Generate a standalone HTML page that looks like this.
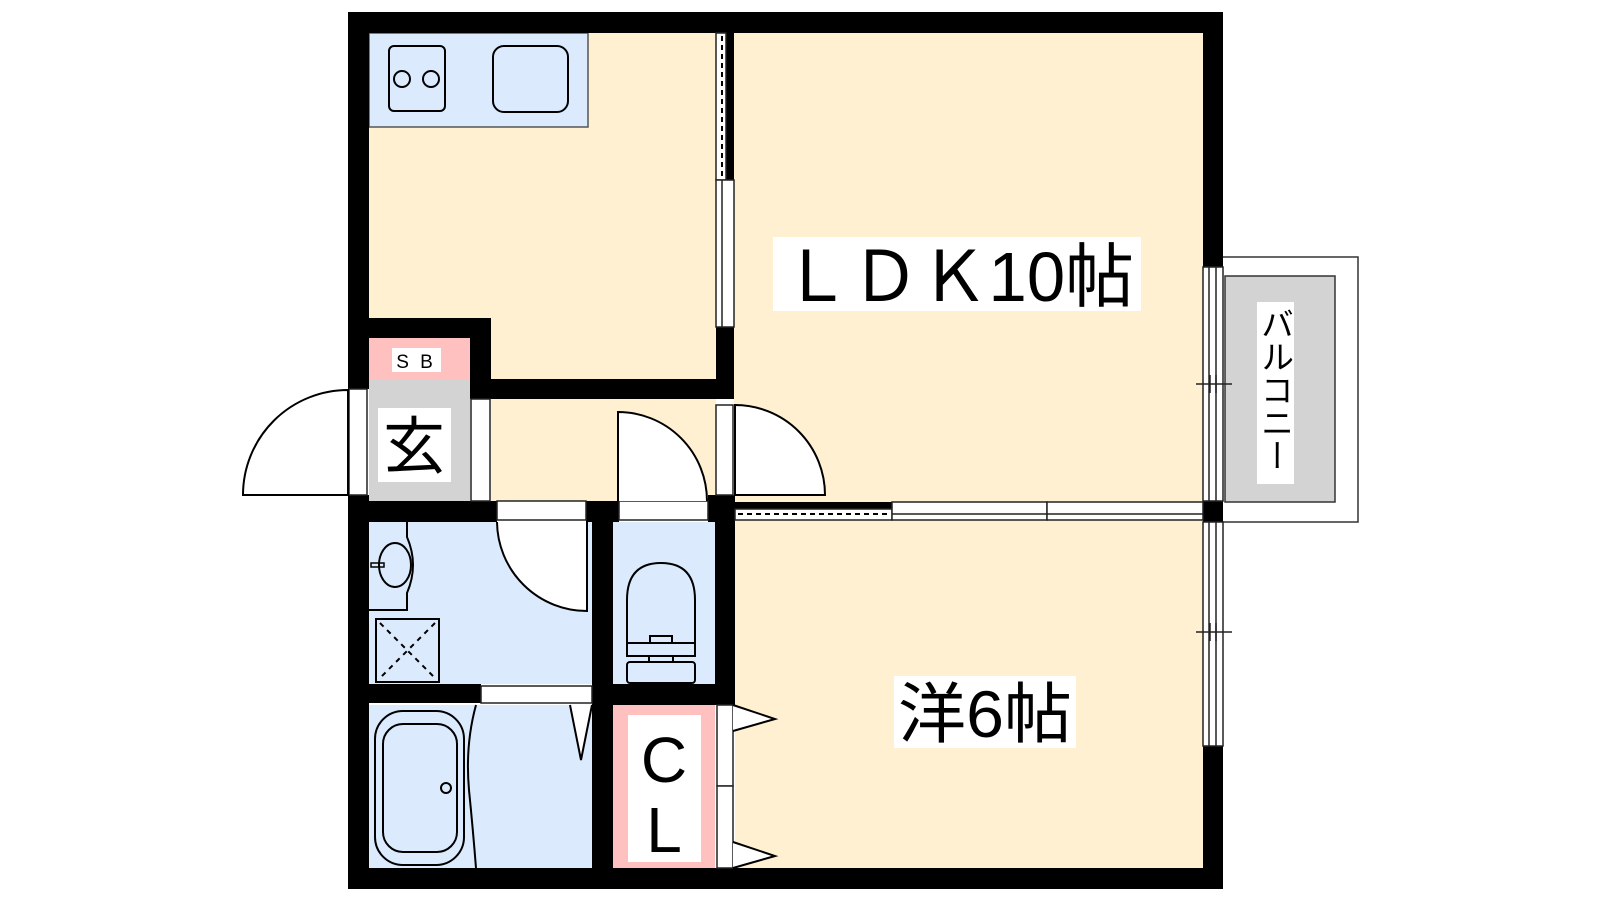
<!DOCTYPE html>
<html><head><meta charset="utf-8"><style>html,body{margin:0;padding:0;background:#fff}svg{display:block}</style></head>
<body>
<svg width="1600" height="900" viewBox="0 0 1600 900" xmlns="http://www.w3.org/2000/svg" font-family="Liberation Sans, Noto Sans CJK JP, sans-serif">
<!-- room fills -->
<rect x="369" y="33" width="347" height="346" fill="#FEF0D0"/>
<rect x="491" y="399" width="225" height="102" fill="#FEF0D0"/>
<rect x="734" y="33" width="469" height="469" fill="#FEF0D0"/>
<rect x="735" y="520" width="468" height="348" fill="#FEF0D0"/>
<rect x="369" y="33" width="219" height="94" fill="#DBEBFD" stroke="#555" stroke-width="1.5"/>
<rect x="369" y="338" width="101" height="41" fill="#FFC0C0"/>
<rect x="369" y="379" width="101" height="122" fill="#D3D3D3"/>
<rect x="369" y="522" width="223" height="162" fill="#DBEBFD"/>
<rect x="613" y="522" width="102" height="162" fill="#DBEBFD"/>
<rect x="369" y="705" width="223" height="163" fill="#DBEBFD"/>
<rect x="613" y="705" width="102" height="163" fill="#FFC0C0"/>

<!-- balcony -->
<path d="M1223 257 H1358 V522 H1223" fill="none" stroke="#333" stroke-width="1.5"/>
<rect x="1225" y="276" width="110" height="226" fill="#D3D3D3" stroke="#333" stroke-width="1.5"/>
<rect x="1257" y="302" width="37" height="182" fill="#fff"/>
<text x="1275" y="307" font-size="33" style="writing-mode:vertical-rl;text-orientation:upright" writing-mode="tb">バルコニー</text>

<g fill="#000">
<!-- outer walls -->
<rect x="348" y="12" width="875" height="21"/>
<rect x="348" y="868" width="875" height="21"/>
<rect x="348" y="12" width="21" height="377"/>
<rect x="348" y="495" width="21" height="394"/>
<rect x="1203" y="12" width="20" height="255"/>
<rect x="1203" y="746" width="20" height="143"/>
<rect x="1203" y="501" width="20" height="21"/>
<!-- interior -->
<rect x="369" y="318" width="122" height="20"/>
<rect x="470" y="318" width="21" height="81"/>
<rect x="470" y="379" width="247" height="20"/>
<rect x="716" y="327" width="18" height="72"/>
<rect x="726" y="33" width="8" height="147"/>
<rect x="348" y="501" width="149" height="21"/>
<rect x="586" y="501" width="33" height="21"/>
<rect x="592" y="501" width="21" height="367"/>
<rect x="708" y="495" width="27" height="27"/>
<rect x="715" y="495" width="20" height="210"/>
<rect x="592" y="684" width="143" height="21"/>
<rect x="348" y="684" width="133" height="19"/>
<rect x="735" y="502" width="157" height="7"/>
</g>

<g fill="#fff" stroke="#222" stroke-width="1.5">
<!-- frames -->
<rect x="349" y="389" width="18" height="106"/>
<rect x="471" y="399" width="19" height="102"/>
<rect x="497" y="501" width="89" height="19"/>
<rect x="619" y="501" width="89" height="19"/>
<rect x="481" y="686" width="111" height="17"/>
<rect x="716" y="33" width="10" height="147"/>
<rect x="716" y="180" width="18" height="147"/>
<rect x="716" y="405" width="17" height="90"/>
<rect x="735" y="509" width="157" height="11"/>
<rect x="892" y="502" width="155" height="18"/>
<rect x="1047" y="502" width="156" height="18"/>
<rect x="1203" y="267" width="20" height="234"/>
<rect x="1203" y="522" width="20" height="224"/>
<rect x="717" y="705" width="16" height="81"/>
<rect x="717" y="786" width="16" height="82"/>
</g>
<g stroke="#222" stroke-width="1.5" fill="none">
<line x1="722" y1="180" x2="722" y2="327"/>
<line x1="892" y1="514" x2="1203" y2="514"/>
<line x1="1209" y1="267" x2="1209" y2="501"/>
<line x1="1216" y1="267" x2="1216" y2="501"/>
<line x1="1209" y1="522" x2="1209" y2="746"/>
<line x1="1216" y1="522" x2="1216" y2="746"/>
<line x1="1196" y1="384" x2="1232" y2="384"/>
<line x1="1210" y1="375" x2="1210" y2="393"/>
<line x1="1216" y1="375" x2="1216" y2="393"/>
<line x1="1196" y1="632" x2="1232" y2="632"/>
<line x1="1210" y1="623" x2="1210" y2="641"/>
<line x1="1216" y1="623" x2="1216" y2="641"/>
</g>
<g stroke="#000" stroke-width="2" stroke-dasharray="5,4" fill="none">
<line x1="722" y1="36" x2="722" y2="178"/>
<line x1="738" y1="514" x2="890" y2="514"/>
</g>

<!-- doors -->
<g fill="#fff" stroke="#000" stroke-width="2">
<path d="M348 390 A105 105 0 0 0 243 495 H348 Z"/>
<path d="M618 501 V412 A89 89 0 0 1 707 501"/>
<path d="M735 495 V405 A90 90 0 0 1 825 495 Z"/>
<path d="M497 522 A90 90 0 0 0 587 611 V522"/>
<path d="M733 705 L775 719 L733 731"/>
<path d="M733 842 L775 856 L733 868"/>
<path d="M570 705 L581 760 L592 705" />
</g>

<!-- fixtures -->
<g fill="none" stroke="#000" stroke-width="2">
<rect x="389" y="46" width="56" height="65" rx="5"/>
<circle cx="402" cy="79" r="8"/>
<circle cx="431" cy="79" r="8"/>
<rect x="493" y="46" width="75" height="66" rx="11"/>
<path d="M369 610 H407 V593 Q419 565 407 537 V522"/>
<ellipse cx="395" cy="565" rx="16" ry="22"/>
<rect x="371" y="563" width="13" height="4" stroke-width="1.5"/>
<rect x="376" y="619" width="63" height="63"/>
<path d="M380 623 L435 678 M435 623 L380 678" stroke-dasharray="5,5"/>
<path d="M627 643 V600 Q627 563 661 563 Q695 563 695 600 V643 Z"/>
<path d="M627 643 H650 V636 H672 V643 H695 V656 H627 Z"/>
<rect x="649" y="656" width="24" height="6"/>
<rect x="627" y="662" width="68" height="21" rx="3"/>
<rect x="375" y="711" width="89" height="154" rx="28"/>
<rect x="383" y="724" width="74" height="128" rx="20"/>
<circle cx="446" cy="788" r="5"/>
<path d="M476 705 Q465 745 469 790 Q473 830 476 868"/>
</g>

<!-- labels -->
<rect x="392" y="348" width="49" height="24" fill="#fff"/>
<text x="416" y="368" font-size="19" text-anchor="middle" letter-spacing="3">S B</text>
<rect x="378" y="408" width="73" height="74" fill="#fff"/>
<text x="414" y="468" font-size="62" text-anchor="middle">玄</text>
<rect x="628" y="715" width="73" height="147" fill="#fff"/>
<text x="664" y="782" font-size="64" text-anchor="middle">C</text>
<text x="664" y="852" font-size="64" text-anchor="middle">L</text>
<rect x="773" y="237" width="368" height="74" fill="#fff"/>
<text x="782" y="301" font-size="70" textLength="352" lengthAdjust="spacingAndGlyphs">ＬＤＫ10帖</text>
<rect x="894" y="676" width="182" height="72" fill="#fff"/>
<text x="898" y="737" font-size="66" textLength="174" lengthAdjust="spacingAndGlyphs">洋6帖</text>
</svg>
</body></html>
